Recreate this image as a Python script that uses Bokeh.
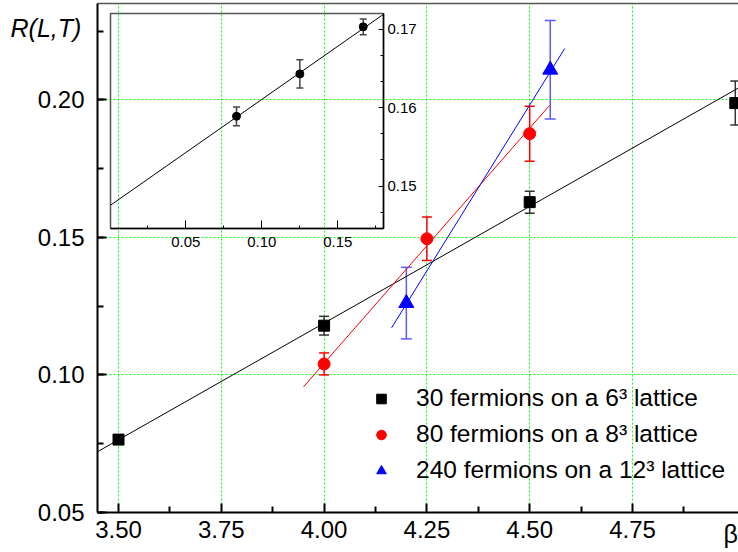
from bokeh.plotting import figure
from bokeh.models import (ColumnDataSource, Whisker, TeeHead, Legend, LegendItem, Label,
                          LinearAxis, FixedTicker, SingleIntervalTicker, NumeralTickFormatter, Range1d)
from bokeh.embed import file_html
from bokeh.resources import INLINE

# ---------------- data ----------------
beta_6 = [3.50, 4.00, 4.50, 5.00]
r_6 = [0.0765, 0.1179, 0.1628, 0.1988]
err_6 = [0.0008, 0.0034, 0.0040, 0.0080]

beta_8 = [4.00, 4.25, 4.50]
r_8 = [0.1040, 0.1495, 0.1877]
err_8 = [0.0040, 0.0079, 0.0100]

beta_12 = [4.20, 4.55]
r_12 = [0.1261, 0.2109]
err_12 = [0.0130, 0.0179]

fit6_x = [3.449, 5.05]
fit6_y = [0.0721, 0.2079]
fit8_x = [3.95, 4.548]
fit8_y = [0.0957, 0.1979]
fit12_x = [4.164, 4.585]
fit12_y = [0.1171, 0.2186]

inv_L = [1 / 12, 1 / 8, 1 / 6]
r_cross = [0.1589, 0.1643, 0.1703]
err_cross = [0.0012, 0.0018, 0.0010]
fitc_x = [0.0, 0.18]
fitc_y = [0.1475, 0.1719]

x_ticks = [3.50, 3.75, 4.00, 4.25, 4.50, 4.75]
x_minor_ticks = [3.375, 3.625, 3.875, 4.125, 4.375, 4.625, 4.875]

legend_labels = ["30 fermions on a 6³ lattice",
                 "80 fermions on a 8³ lattice",
                 "240 fermions on a 12³ lattice"]
y_title = "R(L,T)"
x_title = "β"

FONT = "Liberation Sans"
GRID = "#00ff00"

# ---------------- main figure ----------------
p = figure(frame_width=641, frame_height=509,
           x_range=Range1d(3.4489, 5.0078), y_range=Range1d(0.05, 0.235),
           output_backend="svg", toolbar_location=None,
           min_border_left=97, min_border_right=0, min_border_top=3, min_border_bottom=38)
p.outline_line_color = None
p.background_fill_color = "white"
p.border_fill_color = "white"

p.xaxis[0].ticker = FixedTicker(ticks=x_ticks, minor_ticks=x_minor_ticks)
p.yaxis[0].ticker = SingleIntervalTicker(interval=0.05, num_minor_ticks=2)
for ax in (p.xaxis[0], p.yaxis[0]):
    ax.formatter = NumeralTickFormatter(format="0.00")
    ax.axis_line_color = "black"
    ax.axis_line_width = 2
    ax.major_tick_line_color = "black"
    ax.major_tick_line_width = 2
    ax.minor_tick_line_color = "black"
    ax.minor_tick_line_width = 2
    ax.major_tick_in = 9
    ax.major_tick_out = 0
    ax.minor_tick_in = 6
    ax.minor_tick_out = 0
    ax.major_label_text_font = FONT
    ax.major_label_text_font_size = "24px"
    ax.major_label_text_color = "black"
p.xaxis[0].major_label_standoff = 8
p.yaxis[0].major_label_standoff = 13

top_axis = LinearAxis(ticker=FixedTicker(ticks=[]), axis_line_color="#555555", axis_line_width=1.5,
                      major_tick_in=0, major_tick_out=0, minor_tick_in=0, minor_tick_out=0,
                      major_label_standoff=0, major_label_text_font_size="0px")
p.add_layout(top_axis, "above")

for g in (p.xgrid[0], p.ygrid[0]):
    g.grid_line_color = GRID
    g.grid_line_dash = "2 2"
    g.grid_line_width = 1

# fit lines
p.line(fit6_x, fit6_y, line_color="black", line_width=1)
p.line(fit8_x, fit8_y, line_color="#ff0000", line_width=1)
p.line(fit12_x, fit12_y, line_color="#0000ff", line_width=1)


def add_series(fig, xs, ys, es, marker, size, color, ecolor, head):
    src = ColumnDataSource(dict(x=xs, y=ys,
                                lo=[a - b for a, b in zip(ys, es)],
                                hi=[a + b for a, b in zip(ys, es)]))
    w = Whisker(source=src, base="x", upper="hi", lower="lo", dimension="height",
                line_color=ecolor, line_width=1.5, level="underlay",
                upper_head=TeeHead(size=head, line_color=ecolor, line_width=1.5),
                lower_head=TeeHead(size=head, line_color=ecolor, line_width=1.5))
    fig.add_layout(w)
    return fig.scatter("x", "y", source=src, marker=marker, size=size,
                       fill_color=color, line_color=color)


r1 = add_series(p, beta_6, r_6, err_6, "square", 11, "black", "#333333", 10)
r2 = add_series(p, beta_8, r_8, err_8, "circle", 12, "#ff0000", "#ff0000", 10)
r3 = add_series(p, beta_12, r_12, err_12, "triangle", 15, "#0000ff", "#5a5aff", 11)

legend = Legend(items=[LegendItem(label=legend_labels[0], renderers=[r1]),
                       LegendItem(label=legend_labels[1], renderers=[r2]),
                       LegendItem(label=legend_labels[2], renderers=[r3])],
                location=(272, 25.5), border_line_color=None, background_fill_alpha=0,
                label_text_font=FONT, label_text_font_size="24.5px", label_text_color="black",
                glyph_width=24, glyph_height=33, label_height=33, label_standoff=23,
                spacing=3, padding=10, margin=0)
p.add_layout(legend)

# ---------------- inset ----------------
ins = figure(frame_width=273, frame_height=215,
             x_range=Range1d(0.0005, 0.18), y_range=Range1d(0.1446, 0.1720),
             y_axis_location="right",
             output_backend="svg", toolbar_location=None,
             min_border_left=3, min_border_top=3, min_border_right=10, min_border_bottom=5)
ins.background_fill_color = None
ins.border_fill_color = None
ins.outline_line_color = "#555555"
ins.outline_line_width = 1.5
ins.xgrid.visible = False
ins.ygrid.visible = False
ins.xaxis[0].ticker = SingleIntervalTicker(interval=0.05, num_minor_ticks=2)
ins.yaxis[0].ticker = SingleIntervalTicker(interval=0.01, num_minor_ticks=3)
for ax in (ins.xaxis[0], ins.yaxis[0]):
    ax.formatter = NumeralTickFormatter(format="0.00")
    ax.axis_line_color = "black"
    ax.axis_line_width = 1.5
    ax.major_tick_line_color = "black"
    ax.minor_tick_line_color = "black"
    ax.major_tick_line_width = 1
    ax.minor_tick_line_width = 1
    ax.major_tick_out = 0
    ax.minor_tick_out = 0
    ax.major_label_text_font = FONT
    ax.major_label_text_font_size = "15px"
    ax.major_label_text_color = "black"
ins.xaxis[0].major_tick_in = 8
ins.xaxis[0].minor_tick_in = 3
ins.yaxis[0].major_tick_in = 5
ins.yaxis[0].minor_tick_in = 3
ins.xaxis[0].major_label_standoff = 8
ins.yaxis[0].major_label_standoff = 4

ins.line(fitc_x, fitc_y, line_color="black", line_width=1)
add_series(ins, inv_L, r_cross, err_cross, "circle", 8, "black", "#444444", 7)

ins.styles = {"position": "absolute", "left": "107px", "top": "10px"}

# ---------------- text overlay (axis titles) ----------------
ov = figure(width=738, height=552, x_range=Range1d(0, 738), y_range=Range1d(552, 0),
            output_backend="svg", toolbar_location=None,
            x_axis_location=None, y_axis_location=None,
            min_border_left=0, min_border_right=0, min_border_top=0, min_border_bottom=0)
ov.background_fill_color = None
ov.border_fill_color = None
ov.outline_line_color = None
ov.xgrid.visible = False
ov.ygrid.visible = False
ov.add_layout(Label(x=10, y=27, text=y_title, text_font=FONT, text_font_size="25px",
                    text_font_style="italic", text_baseline="alphabetic", text_align="left",
                    text_color="black"))
ov.add_layout(Label(x=723, y=533, text=x_title, text_font=FONT, text_font_size="25px",
                    text_baseline="alphabetic", text_align="left", text_color="black"))
ov.styles = {"position": "absolute", "left": "0px", "top": "0px"}

open("out.html", "w").write(file_html([p, ins, ov], INLINE))
